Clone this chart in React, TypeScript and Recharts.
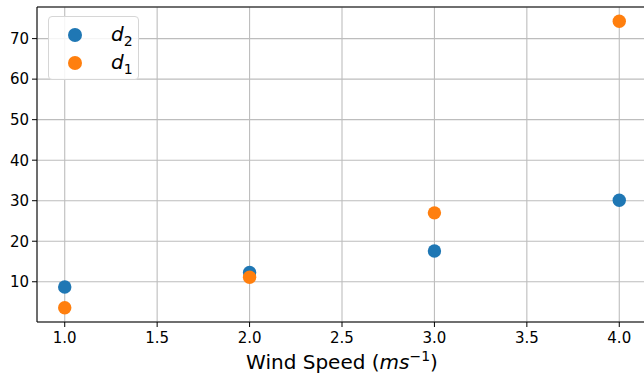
import { ScatterChart, Scatter, XAxis, YAxis, CartesianGrid, ReferenceLine } from 'recharts'

const windSpeed = [1, 2, 3, 4]
const d2Values = [8.7, 12.3, 17.6, 30.1]
const d1Values = [3.6, 11.1, 27.0, 74.3]
const xTicks = [1.0, 1.5, 2.0, 2.5, 3.0, 3.5, 4.0]
const yTicks = [10, 20, 30, 40, 50, 60, 70]

const d2Data = windSpeed.map((x, i) => ({ x, y: d2Values[i] }))
const d1Data = windSpeed.map((x, i) => ({ x, y: d1Values[i] }))

const BLUE = '#1f77b4'
const ORANGE = '#ff7f0e'
const FONT = '"DejaVu Sans", sans-serif'

const Dot = (props: any) => <circle cx={props.cx} cy={props.cy} r={6.7} fill={props.fill} />

const legendItems = [
  { sub: '2', color: BLUE },
  { sub: '1', color: ORANGE },
]

const LegendBox = () => (
  <div
    style={{
      position: 'absolute',
      left: 48,
      top: 16,
      width: 91,
      height: 64,
      border: '1px solid #d6d6d6',
      borderRadius: 4,
      background: 'rgba(255,255,255,0.85)',
      fontFamily: FONT,
      boxSizing: 'border-box',
    }}
  >
    {legendItems.map((s, i) => (
      <div key={i} style={{ position: 'absolute', left: 0, top: 6 + i * 28, height: 24, display: 'flex', alignItems: 'center' }}>
        <span style={{ display: 'inline-block', width: 14, height: 14, borderRadius: 7, background: s.color, marginLeft: 19 }} />
        <span style={{ marginLeft: 29, fontSize: 20, fontStyle: 'oblique' }}>
          d<sub style={{ fontSize: 14, fontStyle: 'normal', verticalAlign: -5 }}>{s.sub}</sub>
        </span>
      </div>
    ))}
  </div>
)

const XLabel = (props: any) => {
  const vb = props.viewBox
  return (
    <text x={vb.x + vb.width / 2} y={369} textAnchor="middle" fontFamily={FONT} fontSize={20} fill="#000">
      Wind Speed (<tspan fontStyle="italic">ms</tspan>
      <tspan dy={-8} fontSize={14}>−1</tspan>
      <tspan dy={8}>)</tspan>
    </text>
  )
}

export default function App() {
  return (
    <div style={{ position: 'absolute', left: 0, top: 0, width: 644, height: 377, overflow: 'hidden', background: '#fff' }}>
      <ScatterChart width={648} height={377} margin={{ top: 7, right: 1, left: 0, bottom: 0 }}>
        <CartesianGrid stroke="#bdbdbd" strokeWidth={1.1} />
        <XAxis
          type="number"
          dataKey="x"
          domain={[0.85, 4.15]}
          ticks={xTicks}
          tickFormatter={(v: number) => v.toFixed(1)}
          height={55}
          tickSize={5}
          tickMargin={5}
          stroke="#000"
          fontSize={15}
          fontFamily={FONT}
          tick={{ fill: '#000', fontSize: 15, fontFamily: FONT }}
          label={<XLabel />}
        />
        <YAxis
          type="number"
          dataKey="y"
          domain={[0.07, 77.8]}
          ticks={yTicks}
          width={37}
          tickSize={5}
          tickMargin={3}
          stroke="#000"
          fontSize={15}
          fontFamily={FONT}
          tick={{ fill: '#000', fontSize: 15, fontFamily: FONT }}
        />
        <ReferenceLine y={77.8} stroke="#000" strokeWidth={1} ifOverflow="visible" />
        <Scatter name="d2" data={d2Data} fill={BLUE} shape={<Dot />} isAnimationActive={false} />
        <Scatter name="d1" data={d1Data} fill={ORANGE} shape={<Dot />} isAnimationActive={false} />
      </ScatterChart>
      <LegendBox />
    </div>
  )
}
